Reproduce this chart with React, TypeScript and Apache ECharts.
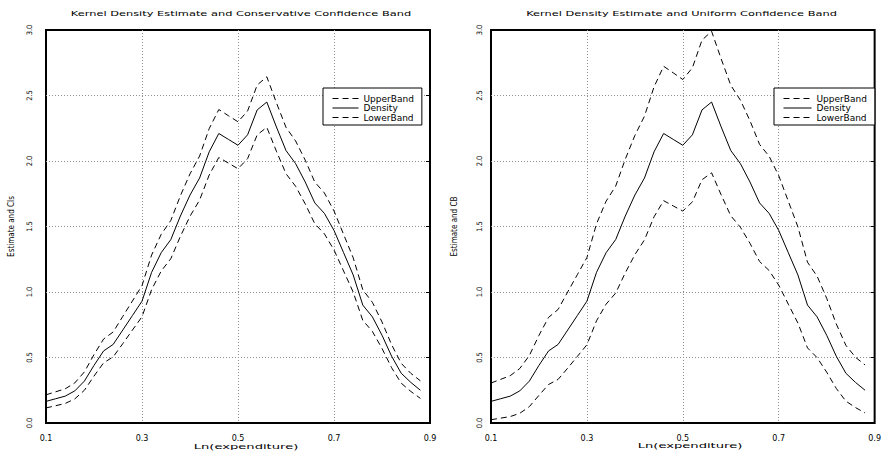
import React, { useEffect, useRef } from "react";
import * as echarts from "echarts";

// Evaluation grid of log-expenditure
const xs = [
  0.10, 0.12, 0.14, 0.16, 0.18, 0.20, 0.22, 0.24, 0.26, 0.28,
  0.30, 0.32, 0.34, 0.36, 0.38, 0.40, 0.42, 0.44, 0.46, 0.48,
  0.50, 0.52, 0.54, 0.56, 0.58, 0.60, 0.62, 0.64, 0.66, 0.68,
  0.70, 0.72, 0.74, 0.76, 0.78, 0.80, 0.82, 0.84, 0.86, 0.88,
];

// Kernel density estimate
const density = [
  0.165, 0.185, 0.205, 0.245, 0.32, 0.44, 0.55, 0.60, 0.71, 0.82,
  0.93, 1.15, 1.30, 1.40, 1.58, 1.74, 1.87, 2.07, 2.21, 2.165,
  2.12, 2.20, 2.39, 2.45, 2.26, 2.08, 1.98, 1.84, 1.68, 1.60,
  1.47, 1.30, 1.13, 0.90, 0.81, 0.67, 0.51, 0.38, 0.31, 0.25,
];

// Conservative (pointwise) confidence band
const consUpper = [
  0.215, 0.238, 0.261, 0.306, 0.39, 0.522, 0.641, 0.695, 0.814, 0.931,
  1.049, 1.282, 1.44, 1.546, 1.735, 1.902, 2.038, 2.247, 2.393, 2.346,
  2.299, 2.382, 2.58, 2.643, 2.445, 2.257, 2.153, 2.007, 1.839, 1.756,
  1.619, 1.44, 1.261, 1.017, 0.921, 0.771, 0.598, 0.456, 0.379, 0.322,
];
const consLower = [
  0.115, 0.132, 0.149, 0.184, 0.25, 0.358, 0.459, 0.505, 0.606, 0.709,
  0.811, 1.018, 1.16, 1.254, 1.425, 1.578, 1.702, 1.893, 2.027, 1.984,
  1.941, 2.018, 2.2, 2.257, 2.075, 1.903, 1.807, 1.673, 1.521, 1.444,
  1.321, 1.16, 0.999, 0.783, 0.699, 0.569, 0.422, 0.304, 0.241, 0.188,
];

// Uniform confidence band
const unifUpper = [
  0.305, 0.333, 0.361, 0.416, 0.515, 0.669, 0.806, 0.867, 1.001, 1.132,
  1.263, 1.52, 1.693, 1.808, 2.014, 2.195, 2.342, 2.566, 2.723, 2.673,
  2.622, 2.712, 2.923, 2.99, 2.779, 2.578, 2.465, 2.308, 2.127, 2.036,
  1.888, 1.693, 1.497, 1.227, 1.121, 0.952, 0.756, 0.593, 0.502, 0.443,
];
const unifLower = [
  0.025, 0.037, 0.049, 0.074, 0.125, 0.211, 0.294, 0.333, 0.419, 0.508,
  0.597, 0.78, 0.907, 0.992, 1.146, 1.285, 1.398, 1.574, 1.697, 1.657,
  1.618, 1.688, 1.857, 1.91, 1.741, 1.582, 1.495, 1.372, 1.233, 1.164,
  1.052, 0.907, 0.763, 0.573, 0.499, 0.388, 0.264, 0.167, 0.118, 0.077,
];

const seriesNames = ["UpperBand", "Density", "LowerBand"];
const panelTitles = [
  "Kernel Density Estimate and Conservative Confidence Band",
  "Kernel Density Estimate and Uniform Confidence Band",
];
const yAxisNames = ["Estimate and CIs", "Estimate and CB"];
const xAxisName = "Ln(expenditure)";

const FONT = "DejaVu Sans";
const NARROW = "DejaVu Sans Condensed";

const pairs = (ys: number[]) => xs.map((x, i) => [x, ys[i]]);

const gridDots = { color: "#8f8f8f", width: 1, type: [1, 2] };

function makeXAxis(gridIndex: number) {
  return {
    type: "value",
    gridIndex,
    min: 0.1,
    max: 0.9,
    interval: 0.2,
    axisLine: { show: false },
    axisTick: { show: false },
    axisLabel: {
      margin: 11,
      color: "#000",
      fontFamily: FONT,
      fontSize: 8,
      formatter: (v: number) => v.toFixed(1),
    },
    splitLine: { show: true, showMinLine: false, showMaxLine: false, lineStyle: gridDots },
  };
}

function makeYAxis(gridIndex: number, name: string, labelMargin: number, nameGap: number) {
  return {
    type: "value",
    gridIndex,
    min: 0,
    max: 3,
    interval: 0.5,
    name,
    nameLocation: "middle",
    nameRotate: 90,
    nameGap,
    nameTextStyle: { color: "#000", fontFamily: NARROW, fontSize: 8 },
    axisLine: { show: false },
    axisTick: { show: false },
    axisLabel: {
      rotate: 90,
      margin: labelMargin,
      color: "#000",
      fontFamily: NARROW,
      fontSize: 7.5,
      formatter: (v: number) => v.toFixed(1),
    },
    splitLine: { show: true, showMinLine: false, showMaxLine: false, lineStyle: gridDots },
  };
}

// Right-hand axis that only carries inward tick marks
function makeTickAxis(gridIndex: number) {
  return {
    type: "value",
    gridIndex,
    position: "right",
    min: 0,
    max: 3,
    interval: 0.5,
    axisLine: { show: false },
    axisTick: { show: true, inside: true, length: 4, lineStyle: { color: "#000", width: 1 } },
    axisLabel: { show: false },
    splitLine: { show: false },
  };
}

function bandSeries(name: string, data: number[][], xi: number, yi: number, dashed: boolean) {
  return {
    type: "line",
    name,
    xAxisIndex: xi,
    yAxisIndex: yi,
    data,
    symbol: "none",
    showSymbol: false,
    lineStyle: { color: "#000", width: 1, type: dashed ? [6, 4] : "solid" },
    itemStyle: { color: "#000" },
    z: 3,
  };
}

function makeLegend(left: number, itemWidth: number) {
  return {
    left,
    top: 88,
    orient: "vertical",
    data: seriesNames,
    selectedMode: false,
    itemWidth,
    itemHeight: 8,
    itemGap: 0.5,
    padding: [6, 8, 3, 9],
    borderColor: "#000",
    borderWidth: 1,
    backgroundColor: "#fff",
    itemStyle: { color: "transparent", borderColor: "transparent", borderWidth: 0 },
    lineStyle: { color: "#000", width: 1 },
    textStyle: { color: "#000", fontFamily: FONT, fontSize: 9 },
    z: 10,
  };
}

function stretchedText(text: string, x: number, y: number, scaleX: number, fontSize: number) {
  return {
    type: "text",
    x,
    y,
    scaleX,
    style: {
      text,
      fill: "#000",
      font: `${fontSize}px "${FONT}"`,
      textAlign: "center",
      textVerticalAlign: "middle",
    },
  };
}

export default function App() {
  const ref = useRef<HTMLDivElement>(null);

  useEffect(() => {
    if (!ref.current) return;
    const chart = echarts.init(ref.current, null, { renderer: "svg" });
    chart.setOption({
      animation: false,
      backgroundColor: "#fff",
      grid: [
        { left: 46, top: 30, width: 384, height: 393, show: true, borderColor: "#000", borderWidth: 2, backgroundColor: "transparent" },
        { left: 491, top: 30, width: 385, height: 393, show: true, borderColor: "#000", borderWidth: 2, backgroundColor: "transparent" },
      ],
      xAxis: [makeXAxis(0), makeXAxis(1)],
      yAxis: [
        makeYAxis(0, yAxisNames[0], 13, 31),
        makeTickAxis(0),
        makeYAxis(1, yAxisNames[1], 8, 33),
        makeTickAxis(1),
      ],
      legend: [makeLegend(323, 26), makeLegend(774, 28)],
      graphic: [
        stretchedText(panelTitles[0], 241, 13, 1.46, 7.8),
        stretchedText(panelTitles[1], 681.5, 13, 1.46, 7.8),
        stretchedText(xAxisName, 246, 446.5, 1.75, 7.5),
        stretchedText(xAxisName, 690, 446, 1.75, 7.5),
      ],
      series: [
        bandSeries("UpperBand", pairs(consUpper), 0, 0, true),
        bandSeries("Density", pairs(density), 0, 0, false),
        bandSeries("LowerBand", pairs(consLower), 0, 0, true),
        bandSeries("UpperBand", pairs(unifUpper), 1, 2, true),
        bandSeries("Density", pairs(density), 1, 2, false),
        bandSeries("LowerBand", pairs(unifLower), 1, 2, true),
      ],
    });
    return () => chart.dispose();
  }, []);

  return (
    <div
      ref={ref}
      style={{ position: "absolute", left: 0, top: 0, width: 884, height: 462, background: "#fff" }}
    />
  );
}
